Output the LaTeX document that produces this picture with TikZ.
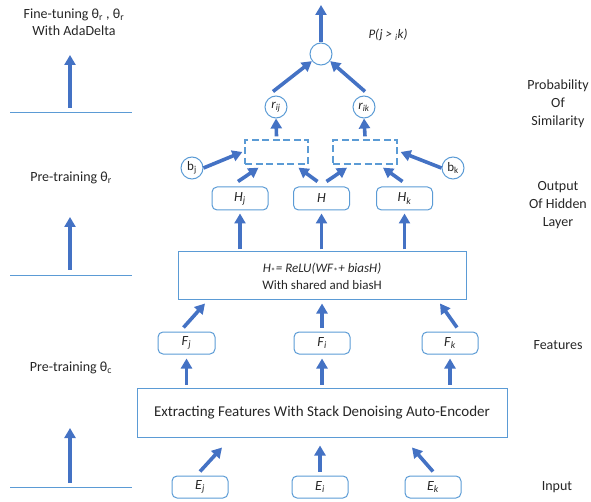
\documentclass[tikz,border=0pt]{standalone}
\usepackage{fontspec}
\setmainfont{Carlito}
\usepackage{tikz}
\usetikzlibrary{arrows.meta,calc}
\definecolor{arrblue}{HTML}{4472C4}
\definecolor{boxblue}{HTML}{5B9BD5}
\definecolor{txtgray}{HTML}{262626}
\newcommand{\isub}[2]{\textit{#1}\textsubscript{\textit{#2}}}

\begin{document}
\begin{tikzpicture}[x=1pt,y=-1pt,
    font=\fontsize{13}{16}\selectfont, text=txtgray,
    arr/.style={-{Triangle[length=10pt,width=11pt]}, line width=3.6pt, arrblue},
    rbox/.style={draw=boxblue, line width=1pt, rounded corners=5pt, minimum width=56pt, minimum height=22pt, inner sep=0pt, font=\fontsize{14}{16}\selectfont},
    bigbox/.style={draw=boxblue, line width=1pt, inner sep=0pt, align=center},
    dbox/.style={draw=boxblue, line width=1.3pt, dash pattern=on 7pt off 3.5pt, minimum width=63pt, minimum height=24pt},
    cnode/.style={draw=boxblue, line width=1pt, circle, minimum size=22pt, inner sep=0pt},
    level/.style={boxblue, line width=0.8pt},
    side/.style={align=center}]
    \useasboundingbox (0,0) rectangle (591,502);

    % Input
    \node[rbox] (Ej) at (200,487) {\isub{E}{j}};
    \node[rbox] (Ei) at (320,487) {\isub{E}{i}};
    \node[rbox] (Ek) at (433,487) {\isub{E}{k}};

    % Auto-encoder
    \node[bigbox, minimum width=370pt, minimum height=49pt, font=\fontsize{15}{18}\selectfont] (ext) at (322,412.5) {Extracting Features With Stack Denoising Auto-Encoder};
    \draw[arr] ([yshift=4pt]Ej.north) -- ([xshift=-100pt,yshift=-10pt]ext.south);
    \draw[arr] ([yshift=4pt]Ei.north) -- ([yshift=-8pt]Ei.north |- ext.south);
    \draw[arr] ([yshift=4pt]Ek.north) -- ([xshift=90pt,yshift=-10pt]ext.south);

    % Features
    \node[rbox, minimum width=57pt] (Fj) at (186.5,343) {\isub{F}{j}};
    \node[rbox] (Fi) at (322,343) {\isub{F}{i}};
    \node[rbox] (Fk) at (450,343) {\isub{F}{k}};
    \foreach \f in {Fj,Fi,Fk}
        \draw[arr] ([yshift=3pt]\f.south |- ext.north) -- ([yshift=-4pt]\f.south);

    % Shared hidden layer
    \node[bigbox, minimum width=288pt, minimum height=48pt] (hid) at (322,276)
        {\textit{H}\textsubscript{*}\textit{= ReLU(WF}\textsubscript{*}\textit{+ biasH)}\\[1pt] With shared and biasH};
    \draw[arr] ([xshift=-3pt,yshift=4pt]Fj.north) -- ([xshift=-117pt,yshift=-3pt]hid.south);
    \draw[arr] ([yshift=4pt]Fi.north) -- ([yshift=-3pt]hid.south);
    \draw[arr] ([xshift=7pt,yshift=4pt]Fk.north) -- ([xshift=118pt,yshift=-3pt]hid.south);

    % Output of hidden layer
    \node[rbox, minimum height=23pt] (Hj) at (240,198.5) {\isub{H}{j}};
    \node[rbox, minimum height=23pt] (H) at (321.5,198.5) {\textit{H}};
    \node[rbox, minimum height=23pt] (Hk) at (404.5,198.5) {\isub{H}{k}};
    \foreach \h in {Hj,H,Hk}
        \draw[arr] ([yshift=2pt]\h.south |- hid.north) -- ([yshift=-3pt]\h.south);

    % Pairs
    \node[dbox] (dl) at (276.5,152) {};
    \node[dbox, minimum width=64pt] (dr) at (365,152) {};
    \node[cnode] (bj) at (192,168) {b\textsubscript{j}};
    \node[cnode] (bk) at (453,168) {b\textsubscript{k}};
    \draw[arr] ([xshift=-2pt,yshift=5pt]Hj.north) -- ([xshift=-18pt,yshift=-3pt]dl.south);
    \draw[arr] ([xshift=-4pt,yshift=5pt]H.north) -- ([xshift=22pt,yshift=-3pt]dl.south);
    \draw[arr] ([xshift=5pt,yshift=5pt]H.north) -- ([xshift=-18pt,yshift=-3pt]dr.south);
    \draw[arr] ([xshift=-2pt,yshift=5pt]Hk.north) -- ([xshift=18pt,yshift=-3pt]dr.south);
    \draw[arr] (bj.east) -- ([xshift=-2pt]dl.west);
    \draw[arr] (bk.west) -- ([xshift=3pt]dr.east);

    % Probability of similarity
    \node[cnode] (rij) at (276,107) {\isub{r}{ij}};
    \node[cnode] (rik) at (364,107) {\isub{r}{ik}};
    \node[cnode] (top) at (321,54) {};
    \coordinate (out) at (321,5);
    \draw[arr] ([yshift=3pt]dl.north) -- (rij.south);
    \draw[arr] ([yshift=3pt]dr.north) -- (rik.south);
    \draw[arr] ([xshift=-3pt,yshift=4pt]rij.north) -- ([xshift=-1pt,yshift=1pt]top.south west);
    \draw[arr] ([xshift=1pt,yshift=4pt]rik.north) -- ([xshift=1pt,yshift=1pt]top.south east);
    \draw[arr] (top.north) -- (out);
    \node (prob) at (388,35) {\textit{P(j > }\textsubscript{\textit{i}}\textit{k)}};

    % Training stages
    \begin{scope}[font=\fontsize{14}{17}\selectfont]
    \node[side] (ft) at (74,22) {Fine-tuning θ\textsubscript{r} , θ\textsubscript{r}\\With AdaDelta};
    \node[side] (ptr) at (71,178) {Pre-training θ\textsubscript{r}};
    \node[side] (ptc) at (71,368) {Pre-training θ\textsubscript{c}};
    \end{scope}
    \draw[level] (10,112) -- (132,112);
    \draw[level] (10,275) -- (132,275);
    \draw[level] (10,487) -- (132,487);
    \draw[arr] (70,108) -- (70,55);
    \draw[arr] (70,270) -- (70,217);
    \draw[arr] (70,483) -- (70,428);

    % Stage names
    \begin{scope}[font=\fontsize{14}{17}\selectfont]
    \node[side] (sim) at (558,104) {Probability\\[1pt]Of\\[1pt]Similarity};
    \node[side] (out2) at (558,205) {Output\\[1pt]Of Hidden\\[1pt]Layer};
    \node[side] (feat) at (558,345) {Features};
    \node[side] (inp) at (557,487) {Input};
    \end{scope}

\end{tikzpicture}
\end{document}
